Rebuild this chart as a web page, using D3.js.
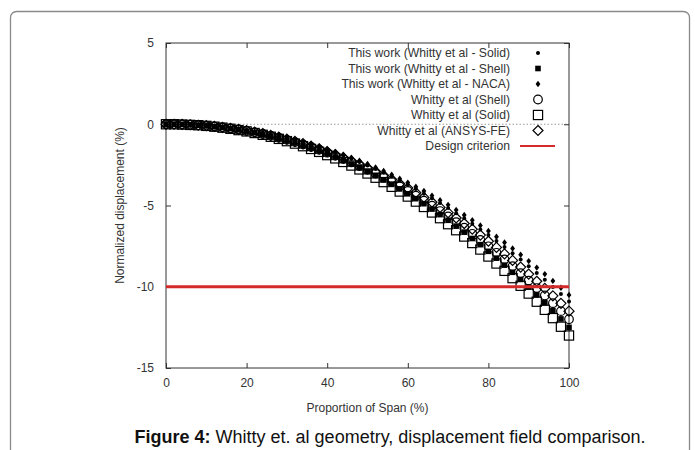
<!DOCTYPE html>
<html>
<head>
<meta charset="utf-8">
<script src="https://cdn.jsdelivr.net/npm/d3@7"></script>
<style>
  html, body { margin: 0; padding: 0; background: #fff; }
  svg { display: block; }
</style>
</head>
<body>
<svg id="chart" width="695" height="450"></svg>
<script>
// Span positions (% of span) where displacement is sampled
const span = d3.range(0, 101, 2);

// Normalized displacement (%) for each data set
const thisWorkSolid = [0,0.00,-0.01,-0.03,-0.05,-0.09,-0.13,-0.18,-0.23,-0.30,-0.37,-0.45,-0.54,-0.64,-0.75,-0.87,-1.00,-1.13,-1.28,-1.43,-1.59,-1.76,-1.94,-2.13,-2.33,-2.54,-2.76,-2.99,-3.23,-3.47,-3.73,-3.99,-4.27,-4.55,-4.85,-5.15,-5.47,-5.79,-6.13,-6.47,-6.82,-7.18,-7.56,-7.94,-8.33,-8.74,-9.15,-9.57,-10.01,-10.45,-10.90];
const thisWorkShell = [0,0.00,-0.01,-0.03,-0.06,-0.10,-0.15,-0.20,-0.27,-0.34,-0.43,-0.52,-0.62,-0.74,-0.86,-1.00,-1.14,-1.30,-1.46,-1.64,-1.82,-2.02,-2.23,-2.45,-2.68,-2.92,-3.17,-3.43,-3.70,-3.98,-4.28,-4.58,-4.89,-5.22,-5.56,-5.91,-6.27,-6.64,-7.03,-7.41,-7.82,-8.24,-8.67,-9.11,-9.55,-10.02,-10.50,-10.98,-11.47,-11.98,-12.50];
const thisWorkNaca = [0,0.00,-0.01,-0.03,-0.05,-0.08,-0.12,-0.17,-0.22,-0.29,-0.36,-0.44,-0.52,-0.62,-0.72,-0.84,-0.96,-1.09,-1.23,-1.38,-1.53,-1.70,-1.87,-2.06,-2.25,-2.45,-2.66,-2.88,-3.11,-3.35,-3.59,-3.85,-4.11,-4.39,-4.67,-4.96,-5.27,-5.58,-5.90,-6.23,-6.57,-6.92,-7.28,-7.65,-8.03,-8.42,-8.82,-9.22,-9.64,-10.06,-10.50];
const whittyShell = [0,0.00,-0.01,-0.03,-0.06,-0.10,-0.14,-0.19,-0.26,-0.33,-0.41,-0.50,-0.60,-0.71,-0.83,-0.96,-1.10,-1.25,-1.40,-1.57,-1.75,-1.94,-2.14,-2.35,-2.57,-2.80,-3.04,-3.29,-3.55,-3.82,-4.10,-4.40,-4.70,-5.01,-5.34,-5.67,-6.02,-6.37,-6.74,-7.12,-7.51,-7.91,-8.32,-8.74,-9.17,-9.62,-10.08,-10.54,-11.01,-11.50,-12.00];
const whittySolid = [0,0.00,-0.02,-0.04,-0.06,-0.10,-0.15,-0.21,-0.28,-0.36,-0.44,-0.54,-0.65,-0.77,-0.90,-1.04,-1.19,-1.35,-1.52,-1.70,-1.90,-2.10,-2.32,-2.54,-2.78,-3.03,-3.29,-3.56,-3.85,-4.14,-4.45,-4.76,-5.09,-5.43,-5.78,-6.15,-6.52,-6.91,-7.31,-7.71,-8.14,-8.57,-9.02,-9.47,-9.94,-10.42,-10.92,-11.42,-11.93,-12.46,-13.00];
const whittyAnsys = [0,0.00,-0.01,-0.03,-0.06,-0.09,-0.13,-0.19,-0.25,-0.31,-0.39,-0.48,-0.57,-0.68,-0.79,-0.92,-1.05,-1.19,-1.35,-1.51,-1.68,-1.86,-2.05,-2.25,-2.46,-2.68,-2.91,-3.15,-3.40,-3.66,-3.93,-4.21,-4.50,-4.80,-5.12,-5.44,-5.77,-6.11,-6.46,-6.82,-7.20,-7.58,-7.98,-8.38,-8.79,-9.22,-9.66,-10.10,-10.56,-11.02,-11.50];

// Design criterion (%)
const designCriterion = -10;

const seriesNames = [
  "This work (Whitty et al - Solid)",
  "This work (Whitty et al - Shell)",
  "This work (Whitty et al - NACA)",
  "Whitty et al (Shell)",
  "Whitty et al (Solid)",
  "Whitty et al (ANSYS-FE)"
];
const seriesValues = [thisWorkSolid, thisWorkShell, thisWorkNaca, whittyShell, whittySolid, whittyAnsys];
const seriesMarkers = ["dot", "fsquare", "fdiamond", "circle", "square", "diamond"];

const xTicks = [0, 20, 40, 60, 80, 100];
const yTicks = [5, 0, -5, -10, -15];

const xAxisTitle = "Proportion of Span (%)";
const yAxisTitle = "Normalized displacement (%)";
const criterionLabel = "Design criterion";

const svg = d3.select("#chart");
const font = "'Liberation Sans', Arial, sans-serif";
const ink = "#333";

// Outer figure frame
svg.append("rect")
  .attr("x", 10.5).attr("y", 11.5)
  .attr("width", 679).attr("height", 460)
  .attr("rx", 6)
  .attr("fill", "none").attr("stroke", "#8a8a8a").attr("stroke-width", 1.3);

const plot = { left: 166, right: 569, top: 43, bottom: 368 };
const x = d3.scaleLinear().domain([0, 100]).range([plot.left, plot.right]);
const y = d3.scaleLinear().domain([-15, 5]).range([plot.bottom, plot.top]);

const g = svg.append("g");

// Zero reference line
g.append("line")
  .attr("x1", x(0)).attr("x2", x(100))
  .attr("y1", y(0)).attr("y2", y(0))
  .attr("stroke", "#9a9a9a").attr("stroke-width", 1)
  .attr("stroke-dasharray", "1.5,2");

// Axes with inward ticks; plain hyphen for negatives
const tickLen = 5;
const plainFmt = d => String(d);
const axisStyle = sel => {
  sel.select(".domain").remove();
  sel.selectAll(".tick line").attr("stroke", ink);
  sel.selectAll(".tick text").attr("fill", ink)
    .style("font-family", font).style("font-size", "12px");
};
g.append("g").attr("transform", `translate(0,${plot.bottom})`)
  .call(d3.axisBottom(x).tickValues(xTicks).tickSizeInner(-tickLen).tickSizeOuter(0).tickPadding(10).tickFormat(plainFmt))
  .call(axisStyle);
g.append("g").attr("transform", `translate(0,${plot.top})`)
  .call(d3.axisTop(x).tickValues(xTicks).tickSizeInner(-tickLen).tickSizeOuter(0).tickFormat(""))
  .call(axisStyle);
g.append("g").attr("transform", `translate(${plot.left},0)`)
  .call(d3.axisLeft(y).tickValues(yTicks).tickSizeInner(-tickLen).tickSizeOuter(0).tickPadding(12).tickFormat(plainFmt))
  .call(axisStyle);
g.append("g").attr("transform", `translate(${plot.right},0)`)
  .call(d3.axisRight(y).tickValues(yTicks).tickSizeInner(-tickLen).tickSizeOuter(0).tickFormat(""))
  .call(axisStyle);

// Plot border
g.append("rect")
  .attr("x", plot.left).attr("y", plot.top)
  .attr("width", plot.right - plot.left).attr("height", plot.bottom - plot.top)
  .attr("fill", "none").attr("stroke", ink).attr("stroke-width", 1);

// Marker drawing
function drawMarker(sel, type) {
  const sw = 1.2;
  switch (type) {
    case "dot":
      sel.append("circle").attr("r", 2).attr("fill", "#000");
      break;
    case "fsquare":
      sel.append("rect").attr("x", -2.8).attr("y", -2.8).attr("width", 5.6).attr("height", 5.6).attr("fill", "#000");
      break;
    case "fdiamond":
      sel.append("path").attr("d", "M0,-3.2L2.4,0L0,3.2L-2.4,0Z").attr("fill", "#000");
      break;
    case "circle":
      sel.append("circle").attr("r", 4.3).attr("fill", "none").attr("stroke", "#000").attr("stroke-width", sw);
      break;
    case "square":
      sel.append("rect").attr("x", -4.6).attr("y", -4.6).attr("width", 9.2).attr("height", 9.2)
        .attr("fill", "none").attr("stroke", "#000").attr("stroke-width", sw);
      break;
    case "diamond":
      sel.append("path").attr("d", "M0,-5L5,0L0,5L-5,0Z")
        .attr("fill", "none").attr("stroke", "#000").attr("stroke-width", sw);
      break;
  }
}

// Data points, drawn series by series (last drawn on top)
const drawOrder = [4, 3, 5, 1, 0, 2];
drawOrder.forEach(si => {
  const pts = seriesValues[si].map((v, i) => ({ x: span[i], y: v }));
  g.append("g").selectAll("g").data(pts).join("g")
    .attr("transform", d => `translate(${x(d.x)},${y(d.y)})`)
    .each(function () { drawMarker(d3.select(this), seriesMarkers[si]); });
});

// Design criterion line
g.append("line")
  .attr("x1", x(0)).attr("x2", x(100))
  .attr("y1", y(designCriterion)).attr("y2", y(designCriterion))
  .attr("stroke", "#d42a2a").attr("stroke-width", 3);

// Legend
const legX = 510, legSym = 538, legY0 = 53, legDy = 15.5;
const legendFont = "12.2px";
seriesNames.forEach((name, i) => {
  const yy = legY0 + i * legDy;
  g.append("text").attr("x", legX).attr("y", yy).attr("dy", "0.35em")
    .attr("text-anchor", "end").attr("fill", ink)
    .style("font-family", font).style("font-size", legendFont)
    .text(name);
  const m = g.append("g").attr("transform", `translate(${legSym},${yy})`);
  drawMarker(m, seriesMarkers[i]);
});
{
  const yy = legY0 + 6 * legDy;
  g.append("text").attr("x", legX).attr("y", yy).attr("dy", "0.35em")
    .attr("text-anchor", "end").attr("fill", ink)
    .style("font-family", font).style("font-size", legendFont)
    .text(criterionLabel);
  g.append("line").attr("x1", 520).attr("x2", 555).attr("y1", yy).attr("y2", yy)
    .attr("stroke", "#d42a2a").attr("stroke-width", 2);
}

// Axis titles
svg.append("text")
  .attr("x", (plot.left + plot.right) / 2).attr("y", 408).attr("dy", "0.35em")
  .attr("text-anchor", "middle").attr("fill", ink)
  .style("font-family", font).style("font-size", "12px")
  .text(xAxisTitle);
svg.append("text")
  .attr("transform", `translate(120,${(plot.top + plot.bottom) / 2}) rotate(-90)`)
  .attr("dy", "0.35em")
  .attr("text-anchor", "middle").attr("fill", ink)
  .style("font-family", font).style("font-size", "12px")
  .text(yAxisTitle);

// Figure caption
const cap = svg.append("text")
  .attr("x", 390).attr("y", 437).attr("dy", "0.35em")
  .attr("text-anchor", "middle").attr("fill", "#111")
  .style("font-family", font).style("font-size", "18px");
cap.append("tspan").attr("font-weight", "bold").text("Figure 4:");
cap.append("tspan").text(" Whitty et. al geometry, displacement field comparison.");
</script>
</body>
</html>
